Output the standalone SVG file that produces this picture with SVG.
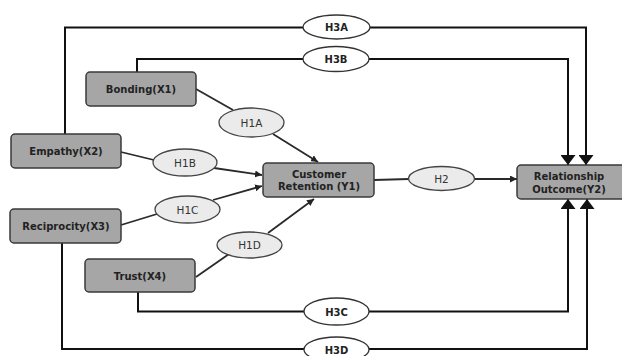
<svg xmlns="http://www.w3.org/2000/svg" width="622" height="356" viewBox="0 0 622 356">
<defs>
<marker id="big" markerUnits="userSpaceOnUse" markerWidth="12" markerHeight="15" refX="10" refY="7.5" orient="auto">
<path d="M0,0 L10,7.5 L0,15 z" fill="#111"/>
</marker>
<marker id="small" markerUnits="userSpaceOnUse" markerWidth="8" markerHeight="7" refX="7" refY="3.5" orient="auto">
<path d="M0,0 L7,3.5 L0,7 z" fill="#222"/>
</marker>
</defs>
<style>
.box{fill:#a6a6a6;stroke:#3a3a3a;stroke-width:1.5}
.hyp{fill:#ebebeb;stroke:#444;stroke-width:1.3}
.h3{fill:#fff;stroke:#333;stroke-width:1.3}
.bt{font-family:"DejaVu Sans",sans-serif;font-weight:bold;font-size:10px;fill:#222;text-anchor:middle}
.ht{font-family:"DejaVu Sans",sans-serif;font-size:10.5px;fill:#333;text-anchor:middle}
.h3t{font-family:"DejaVu Sans",sans-serif;font-weight:bold;font-size:10px;fill:#222;text-anchor:middle}
.c{fill:none;stroke:#2a2a2a;stroke-width:1.8}
.cb{fill:none;stroke:#111;stroke-width:2}
</style>
<rect width="622" height="356" fill="#fff"/>
<g id="connectors">
<polyline class="cb" points="65,134 65,27.5 586,27.5 586,165" marker-end="url(#big)"/>
<polyline class="cb" points="137,72 137,59 568,59 568,165" marker-end="url(#big)"/>
<polyline class="cb" points="138,292 138,311.5 568,311.5 568,199" marker-end="url(#big)"/>
<polyline class="cb" points="62,243 62,349 587,349 587,199" marker-end="url(#big)"/>
<line class="c" x1="196" y1="89" x2="233" y2="110"/>
<line class="c" x1="273" y1="134" x2="318" y2="162" marker-end="url(#small)"/>
<line class="c" x1="121" y1="152" x2="154" y2="160"/>
<line class="c" x1="214" y1="168" x2="262" y2="175" marker-end="url(#small)"/>
<line class="c" x1="121" y1="225" x2="157" y2="214"/>
<line class="c" x1="213" y1="200" x2="262" y2="186" marker-end="url(#small)"/>
<line class="c" x1="196" y1="277" x2="229" y2="254"/>
<line class="c" x1="268" y1="233" x2="314" y2="199" marker-end="url(#small)"/>
<line class="c" x1="374" y1="180" x2="409" y2="179"/>
<line class="c" x1="475" y1="179" x2="517" y2="179" marker-end="url(#small)"/>
</g>
<g id="bonding"><rect class="box" x="86" y="72" width="110" height="34" rx="4"/><text class="bt" x="141" y="93">Bonding(X1)</text></g>
<g id="empathy"><rect class="box" x="11" y="134" width="110" height="34" rx="4"/><text class="bt" x="66" y="155">Empathy(X2)</text></g>
<g id="reciprocity"><rect class="box" x="10" y="209" width="111" height="34" rx="4"/><text class="bt" x="66" y="230">Reciprocity(X3)</text></g>
<g id="trust"><rect class="box" x="85" y="259" width="110" height="33" rx="4"/><text class="bt" x="140" y="280">Trust(X4)</text></g>
<g id="retention"><rect class="box" x="263" y="163" width="111" height="34" rx="4"/><text class="bt" x="319" y="178">Customer</text><text class="bt" x="319" y="190">Retention (Y1)</text></g>
<g id="outcome"><rect class="box" x="517" y="165" width="110" height="34" rx="4"/><text class="bt" x="569" y="180">Relationship</text><text class="bt" x="569" y="193">Outcome(Y2)</text></g>
<g id="h1a"><ellipse class="hyp" cx="251.5" cy="122.5" rx="32.5" ry="14.5"/><text class="ht" x="251.5" y="126.5">H1A</text></g>
<g id="h1b"><ellipse class="hyp" cx="185" cy="162.5" rx="32" ry="13.5"/><text class="ht" x="185" y="166.5">H1B</text></g>
<g id="h1c"><ellipse class="hyp" cx="187.5" cy="209.5" rx="32.5" ry="13.5"/><text class="ht" x="187.5" y="213.5">H1C</text></g>
<g id="h1d"><ellipse class="hyp" cx="249.5" cy="245" rx="32.5" ry="13"/><text class="ht" x="249.5" y="249">H1D</text></g>
<g id="h2"><ellipse class="hyp" cx="441.5" cy="178.5" rx="33" ry="12"/><text class="ht" x="441.5" y="182.5">H2</text></g>
<g id="h3a"><ellipse class="h3" cx="336.5" cy="27" rx="33.5" ry="12"/><text class="h3t" x="336.5" y="31">H3A</text></g>
<g id="h3b"><ellipse class="h3" cx="336" cy="59" rx="33" ry="12.5"/><text class="h3t" x="336" y="63">H3B</text></g>
<g id="h3c"><ellipse class="h3" cx="336.5" cy="311.5" rx="32.5" ry="13.5"/><text class="h3t" x="336.5" y="315.5">H3C</text></g>
<g id="h3d"><ellipse class="h3" cx="336.5" cy="349.5" rx="32.5" ry="12.5"/><text class="h3t" x="336.5" y="353.5">H3D</text></g>
</svg>
